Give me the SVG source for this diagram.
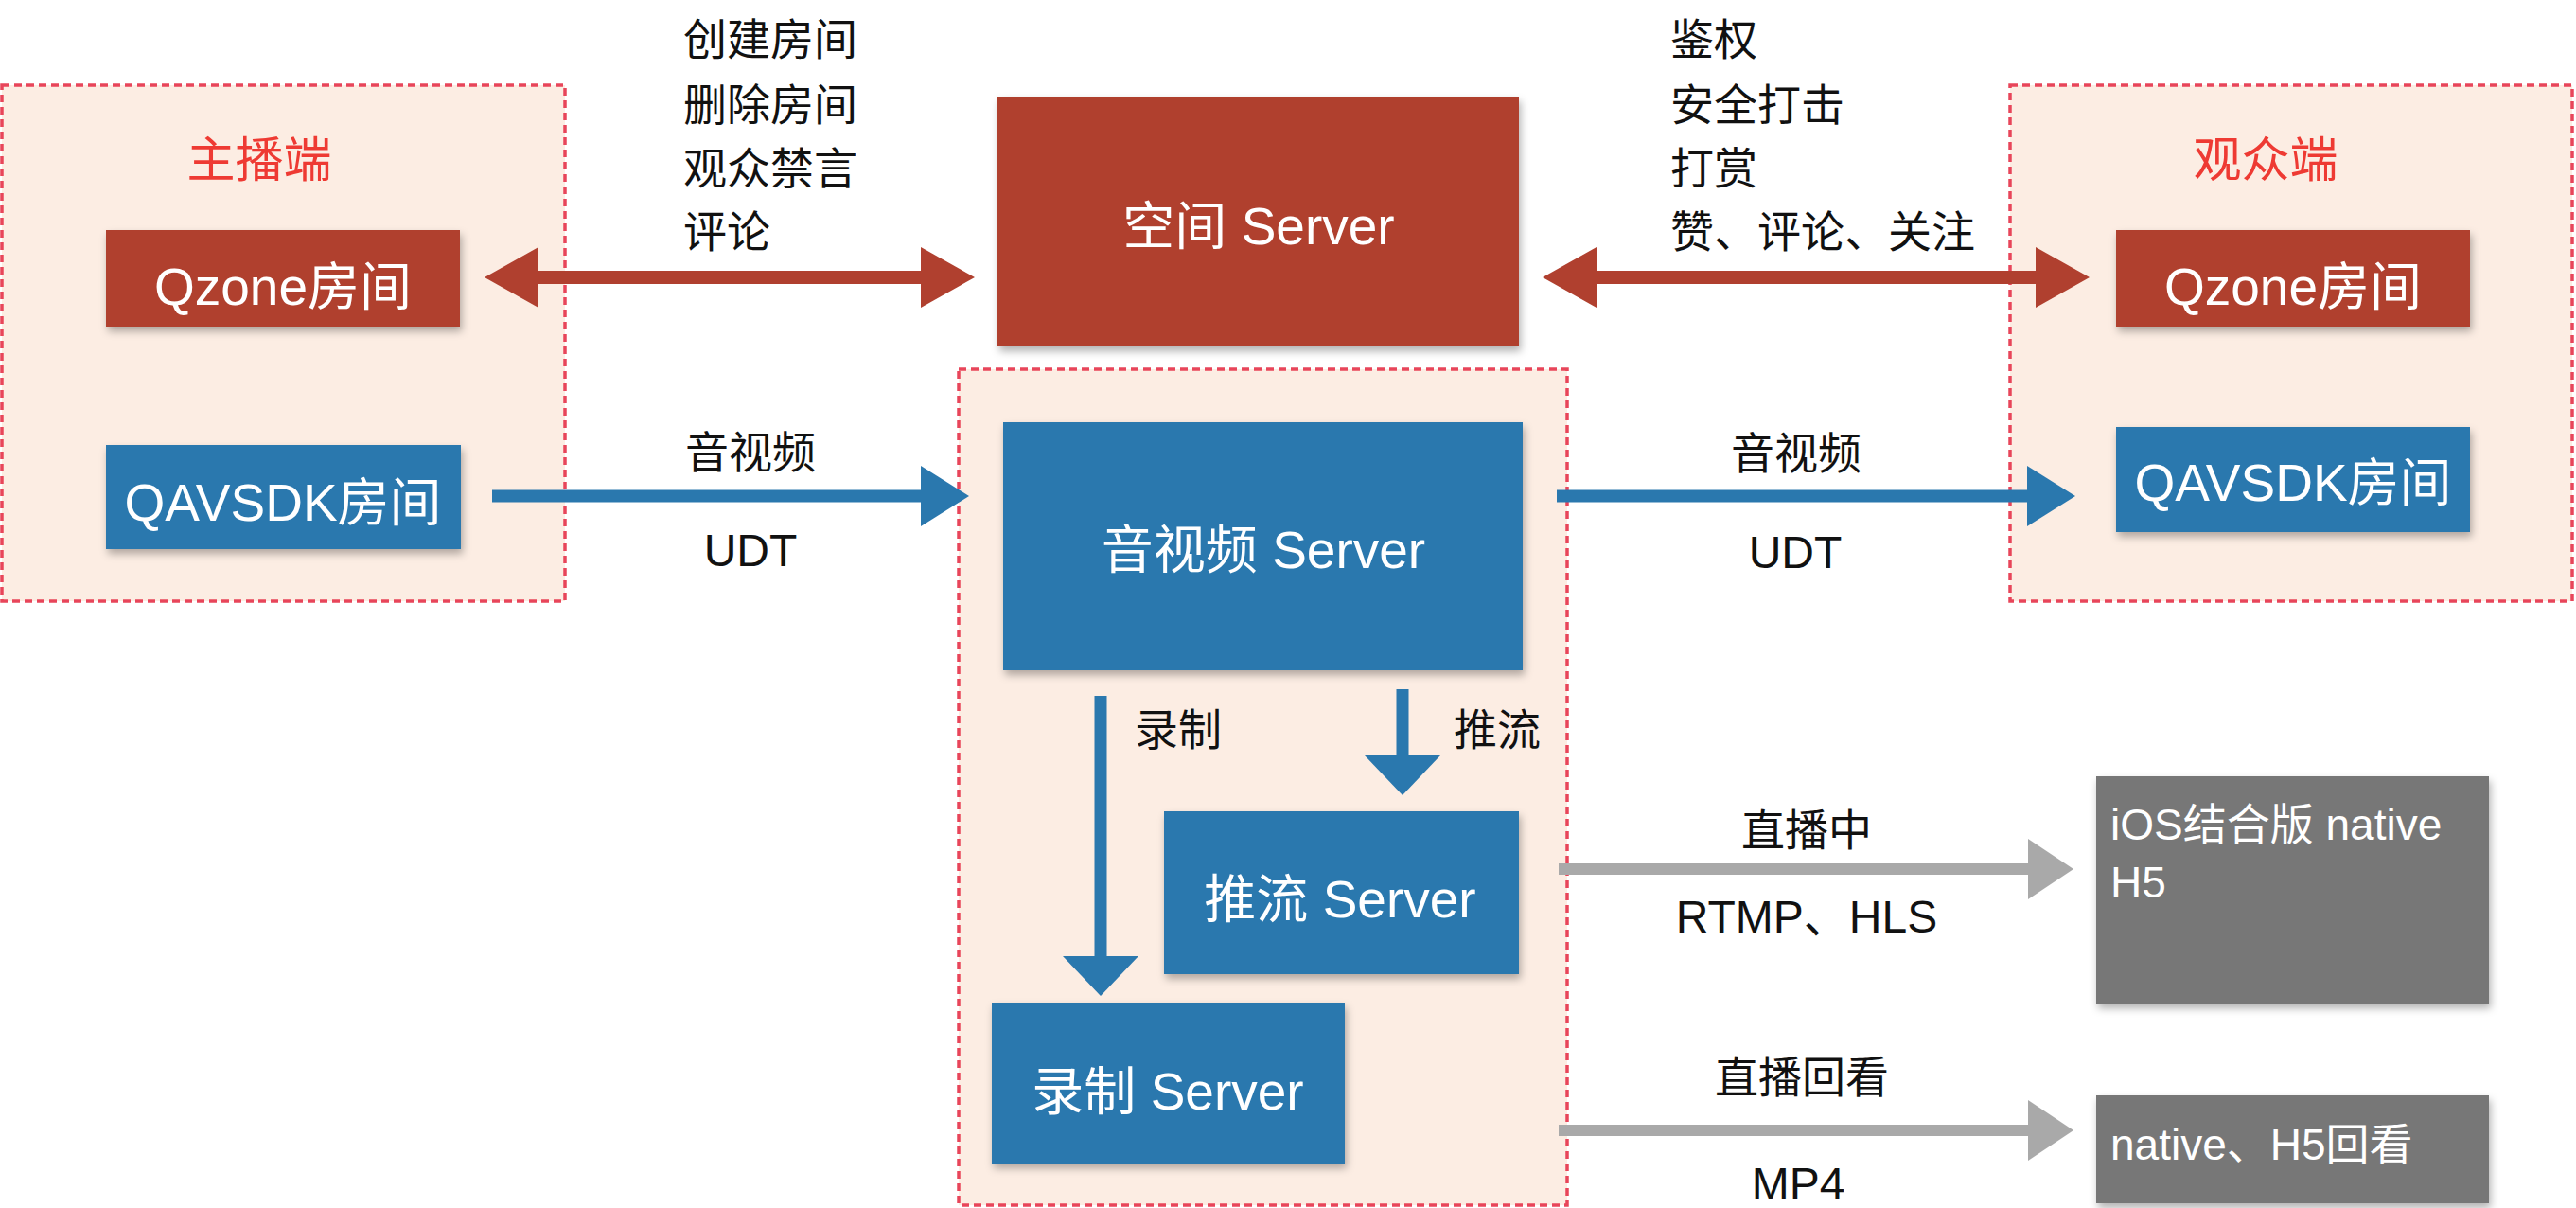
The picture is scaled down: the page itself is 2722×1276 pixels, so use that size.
<svg xmlns="http://www.w3.org/2000/svg" width="2722" height="1276" viewBox="0 0 2722 1276">
<defs>
<style>
text{font-family:"Liberation Sans","Noto Sans CJK SC",sans-serif;}
.zone{fill:#fcede3;stroke:#e8455a;stroke-width:3.5;stroke-dasharray:8 5;}
.red{fill:#b0402f;}
.blue{fill:#2a78ae;}
.gray{fill:#777777;}
.nt{fill:#ffffff;font-size:55px;text-anchor:middle;}
.gt{fill:#ffffff;font-size:46px;}
.lbl{fill:#111111;font-size:46px;}
.lblc{fill:#111111;font-size:46px;text-anchor:middle;}
.lat{fill:#111111;font-size:48px;text-anchor:middle;}
.title{fill:#ee3a33;font-size:51px;text-anchor:middle;}
.sr{stroke:#b0402f;stroke-width:14;fill:none;}
.sb{stroke:#2a78ae;stroke-width:13;fill:none;}
.sg{stroke:#a9a9a9;stroke-width:12;fill:none;}
</style>
<filter id="sh" x="-10%" y="-10%" width="125%" height="135%">
<feDropShadow dx="2" dy="5" stdDeviation="4" flood-color="#000" flood-opacity="0.3"/>
</filter>
<marker id="mr" markerUnits="userSpaceOnUse" viewBox="0 0 57 64" markerWidth="57" markerHeight="64" refX="1" refY="32" orient="auto-start-reverse">
<path d="M0,0 L57,32 L0,64 z" fill="#b0402f"/>
</marker>
<marker id="mb" markerUnits="userSpaceOnUse" viewBox="0 0 51 64" markerWidth="51" markerHeight="64" refX="1" refY="32" orient="auto">
<path d="M0,0 L51,32 L0,64 z" fill="#2a78ae"/>
</marker>
<marker id="mbv" markerUnits="userSpaceOnUse" viewBox="0 0 42 80" markerWidth="42" markerHeight="80" refX="1" refY="40" orient="auto">
<path d="M0,0 L42,40 L0,80 z" fill="#2a78ae"/>
</marker>
<marker id="mg" markerUnits="userSpaceOnUse" viewBox="0 0 48 64" markerWidth="48" markerHeight="64" refX="1" refY="32" orient="auto">
<path d="M0,0 L48,32 L0,64 z" fill="#a9a9a9"/>
</marker>
</defs>
<rect width="2722" height="1276" fill="#ffffff"/>

<g id="zone-anchor">
<rect class="zone" x="2" y="90" width="595" height="545"/>
<text class="title" x="274" y="187">主播端</text>
</g>
<g id="zone-server">
<rect class="zone" x="1013" y="390" width="643" height="883"/>
</g>
<g id="zone-audience">
<rect class="zone" x="2124" y="90" width="594" height="545"/>
<text class="title" x="2394" y="187">观众端</text>
</g>

<g id="connectors">
<line class="sr" x1="568" y1="293" x2="974" y2="293" marker-start="url(#mr)" marker-end="url(#mr)"/>
<line class="sr" x1="1686" y1="293" x2="2152" y2="293" marker-start="url(#mr)" marker-end="url(#mr)"/>
<line class="sb" x1="520" y1="524" x2="974" y2="524" marker-end="url(#mb)"/>
<line class="sb" x1="1645" y1="524" x2="2143" y2="524" marker-end="url(#mb)"/>
<line class="sb" x1="1163" y1="735" x2="1163" y2="1011" stroke-width="15" marker-end="url(#mbv)"/>
<line class="sb" x1="1482" y1="728" x2="1482" y2="799" stroke-width="15" marker-end="url(#mbv)"/>
<line class="sg" x1="1647" y1="918" x2="2144" y2="918" marker-end="url(#mg)"/>
<line class="sg" x1="1647" y1="1194" x2="2144" y2="1194" marker-end="url(#mg)"/>

<text class="lbl" x="722" y="58">创建房间</text>
<text class="lbl" x="722" y="127">删除房间</text>
<text class="lbl" x="722" y="194">观众禁言</text>
<text class="lbl" x="722" y="261">评论</text>

<text class="lbl" x="1765" y="58">鉴权</text>
<text class="lbl" x="1765" y="127">安全打击</text>
<text class="lbl" x="1765" y="194">打赏</text>
<text class="lbl" x="1765" y="261">赞、评论、关注</text>

<text class="lblc" x="793" y="494">音视频</text>
<text class="lat" x="793" y="598">UDT</text>
<text class="lblc" x="1898" y="495">音视频</text>
<text class="lat" x="1897" y="600">UDT</text>

<text class="lbl" x="1199" y="787">录制</text>
<text class="lbl" x="1536" y="787">推流</text>

<text class="lblc" x="1909" y="893">直播中</text>
<text class="lat" x="1909" y="985">RTMP、HLS</text>
<text class="lblc" x="1904" y="1154">直播回看</text>
<text class="lat" x="1900" y="1267">MP4</text>
</g>

<g id="qzone-anchor">
<rect class="red" x="112" y="243" width="374" height="102" filter="url(#sh)"/>
<text class="nt" x="299" y="322">Qzone房间</text>
</g>
<g id="qavsdk-anchor">
<rect class="blue" x="112" y="470" width="375" height="110" filter="url(#sh)"/>
<text class="nt" x="299" y="550" font-size="54">QAVSDK房间</text>
</g>
<g id="space-server">
<rect class="red" x="1054" y="102" width="551" height="264" filter="url(#sh)"/>
<text class="nt" x="1330" y="258">空间 Server</text>
</g>
<g id="av-server">
<rect class="blue" x="1060" y="446" width="549" height="262" filter="url(#sh)"/>
<text class="nt" x="1335" y="600">音视频 Server</text>
</g>
<g id="push-server">
<rect class="blue" x="1230" y="857" width="375" height="172" filter="url(#sh)"/>
<text class="nt" x="1416" y="969">推流 Server</text>
</g>
<g id="record-server">
<rect class="blue" x="1048" y="1059" width="373" height="170" filter="url(#sh)"/>
<text class="nt" x="1234" y="1172">录制 Server</text>
</g>
<g id="qzone-audience">
<rect class="red" x="2236" y="243" width="374" height="102" filter="url(#sh)"/>
<text class="nt" x="2423" y="322">Qzone房间</text>
</g>
<g id="qavsdk-audience">
<rect class="blue" x="2236" y="451" width="374" height="111" filter="url(#sh)"/>
<text class="nt" x="2423" y="529" font-size="54">QAVSDK房间</text>
</g>
<g id="live-client">
<rect class="gray" x="2215" y="820" width="415" height="240" filter="url(#sh)"/>
<text class="gt" x="2230" y="887">iOS结合版 native</text>
<text class="gt" x="2230" y="948">H5</text>
</g>
<g id="replay-client">
<rect class="gray" x="2215" y="1157" width="415" height="114" filter="url(#sh)"/>
<text class="gt" x="2230" y="1225">native、H5回看</text>
</g>
</svg>
